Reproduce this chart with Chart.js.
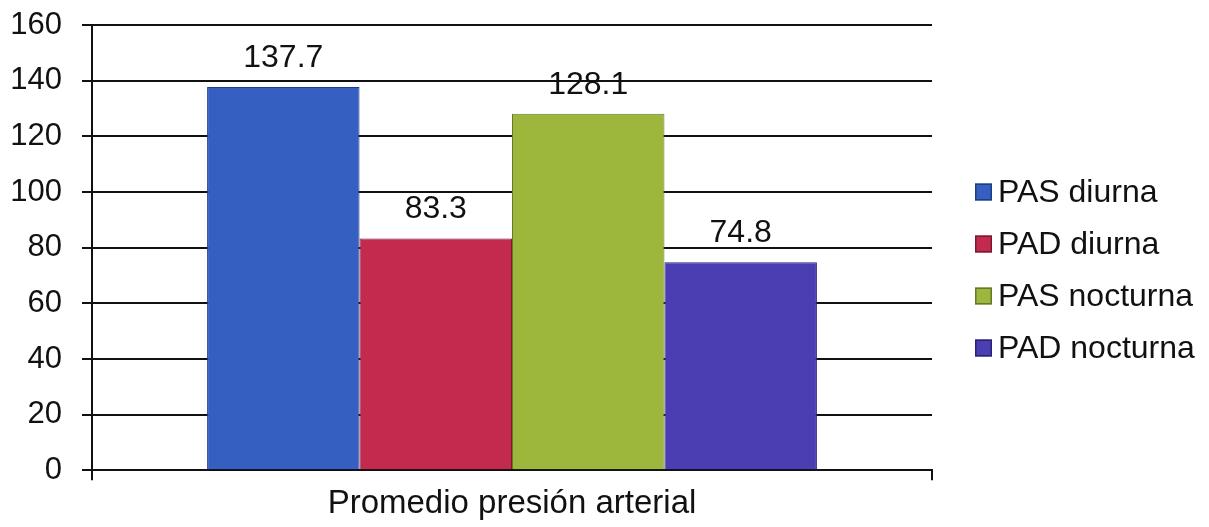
<!DOCTYPE html>
<html>
<head>
<meta charset="utf-8">
<script src="https://cdn.jsdelivr.net/npm/chart.js@4/dist/chart.umd.min.js"></script>
<style>
  html, body { margin: 0; padding: 0; background: #ffffff; }
  #wrap { width: 1209px; height: 527px; position: relative; }
</style>
</head>
<body>
<div id="wrap"><canvas id="chart"></canvas></div>
<script>
// Average blood pressure (mmHg), day vs night
const categories = ['Promedio presión arterial'];
const seriesNames = ['PAS diurna', 'PAD diurna', 'PAS nocturna', 'PAD nocturna'];
const pasDiurna = [137.7];
const padDiurna = [83.3];
const pasNocturna = [128.1];
const padNocturna = [74.8];
const yTicks = [0, 20, 40, 60, 80, 100, 120, 140, 160];

const fillColors = ['#3560c2', '#c42a4e', '#9db63c', '#4a3eb2'];
const edgeColors = ['#1f3c86', '#7e1830', '#66792a', '#2a2277'];

const FONT = "'Liberation Sans', Arial, sans-serif";
const INK = '#111111';

const seriesValues = [pasDiurna, padDiurna, pasNocturna, padNocturna];
const datasets = seriesNames.map((name, i) => ({
  label: name,
  data: seriesValues[i],
  backgroundColor: fillColors[i],
  borderColor: edgeColors[i],
  borderWidth: 1,
  categoryPercentage: 0.726,
  barPercentage: 1.0
}));

// Value printed above each bar
const barValues = {
  id: 'barValues',
  afterDatasetsDraw(chart) {
    const ctx = chart.ctx;
    ctx.save();
    ctx.font = '32px ' + FONT;
    ctx.fillStyle = INK;
    ctx.textAlign = 'center';
    ctx.textBaseline = 'alphabetic';
    chart.data.datasets.forEach((ds, di) => {
      chart.getDatasetMeta(di).data.forEach((bar, j) => {
        ctx.fillText(ds.data[j].toFixed(1), bar.x, bar.y - 20);
      });
    });
    ctx.restore();
  }
};

// Series key at the right of the plot
const sideLegend = {
  id: 'sideLegend',
  afterDraw(chart) {
    const ctx = chart.ctx;
    const x0 = 975, y0 = 192, step = 52, box = 17;
    ctx.save();
    ctx.font = '32px ' + FONT;
    ctx.textBaseline = 'middle';
    ctx.textAlign = 'left';
    chart.data.datasets.forEach((ds, i) => {
      const cy = y0 + i * step;
      ctx.fillStyle = ds.backgroundColor;
      ctx.fillRect(x0, cy - box / 2, box, box);
      ctx.strokeStyle = ds.borderColor;
      ctx.lineWidth = 1.5;
      ctx.strokeRect(x0 + 0.75, cy - box / 2 + 0.75, box - 1.5, box - 1.5);
      ctx.fillStyle = INK;
      ctx.fillText(ds.label, x0 + box + 6, cy + 1);
    });
    ctx.restore();
  }
};

new Chart(document.getElementById('chart'), {
  type: 'bar',
  data: { labels: categories, datasets },
  options: {
    responsive: true,
    maintainAspectRatio: false,
    animation: false,
    layout: { padding: { top: 25, right: 277, bottom: 0, left: 0 } },
    plugins: {
      legend: { display: false },
      tooltip: { enabled: false }
    },
    scales: {
      x: {
        offset: true,
        grid: {
          display: true,
          offset: true,
          drawOnChartArea: false,
          drawTicks: true,
          tickLength: 10,
          color: INK,
          lineWidth: 2
        },
        border: { display: true, color: INK, width: 2 },
        ticks: {
          color: INK,
          padding: 6,
          maxRotation: 0,
          font: { family: FONT, size: 33, lineHeight: 1.05 }
        }
      },
      y: {
        min: 0,
        max: 160,
        afterBuildTicks: (scale) => { scale.ticks = yTicks.map(v => ({ value: v })); },
        afterFit: (scale) => {
          scale.width = 92;
          scale.paddingTop = 0;
          scale.paddingBottom = 0;
        },
        grid: {
          color: INK,
          lineWidth: 2,
          drawTicks: true,
          tickLength: 10
        },
        border: { display: true, color: INK, width: 2 },
        ticks: {
          color: INK,
          padding: 20,
          font: { family: FONT, size: 31 }
        }
      }
    }
  },
  plugins: [barValues, sideLegend]
});
</script>
</body>
</html>
